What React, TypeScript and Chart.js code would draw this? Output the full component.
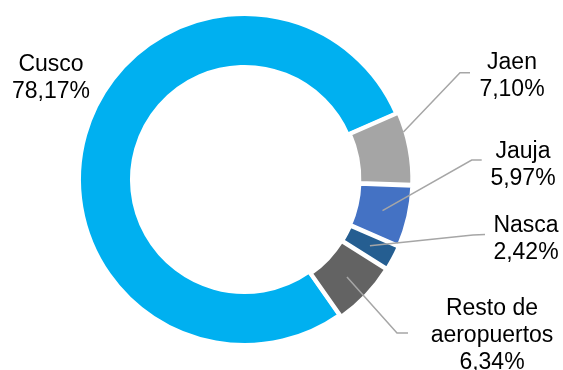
import React, { useEffect, useRef } from 'react';
import { Chart, registerables } from 'chart.js';

Chart.register(...registerables);

// ---- data ----
const categories: string[][] = [['Cusco'], ['Jaen'], ['Jauja'], ['Nasca'], ['Resto de', 'aeropuertos']];
const shares: number[] = [78.17, 7.1, 5.97, 2.42, 6.34];

// ---- styles / layout ----
const sliceColors = ['#00B0F0', '#A5A5A5', '#4472C4', '#255E91', '#636363'];
const sliceOffsets = [0, 6, 6, 6, 6];
const BORDER_W = 4;
const labelAnchors = [
  { x: 51, y: 71 },
  { x: 512, y: 68.5 },
  { x: 523, y: 157.5 },
  { x: 526, y: 231.5 },
  { x: 492, y: 315 },
];
const leaderElbows: (number[][] | null)[] = [
  null,
  [[460, 72.7], [470, 72.7]],
  [[471.7, 160], [481.7, 160]],
  [[473, 235], [485, 234.5]],
  [[397, 333], [408, 333]],
];
const leaderFromEdge = [false, true, false, false, false];
const FONT = '23px "Liberation Sans", Arial, sans-serif';
const LINE_H = 27;

const fmt = (v: number) => v.toFixed(2).replace('.', ',') + '%';

const labelPlugin = {
  id: 'sliceLabels',
  afterDatasetsDraw(chart: any) {
    const ctx: CanvasRenderingContext2D = chart.ctx;
    const meta = chart.getDatasetMeta(0);
    ctx.save();
    meta.data.forEach((arc: any, i: number) => {
      const mid = (arc.startAngle + arc.endAngle) / 2;
      const circ = arc.endAngle - arc.startAngle;
      const off = (sliceOffsets[i] || 0) / 4;
      const shift = off + off * (1 - Math.sin(Math.min(Math.PI, circ)));
      const cx = arc.x + Math.cos(mid) * shift;
      const cy = arc.y + Math.sin(mid) * shift;
      const rMid = (arc.innerRadius + arc.outerRadius) / 2;
      let sx = cx + Math.cos(mid) * rMid;
      let sy = cy + Math.sin(mid) * rMid;
      const elbow = leaderElbows[i];
      if (elbow) {
        if (leaderFromEdge[i]) {
          const dx = elbow[0][0] - sx;
          const dy = elbow[0][1] - sy;
          const fx = sx - cx;
          const fy = sy - cy;
          const R = arc.outerRadius - BORDER_W / 2;
          const a = dx * dx + dy * dy;
          const b = 2 * (fx * dx + fy * dy);
          const c = fx * fx + fy * fy - R * R;
          const disc = b * b - 4 * a * c;
          if (disc >= 0) {
            const t = (-b + Math.sqrt(disc)) / (2 * a);
            sx += t * dx;
            sy += t * dy;
          }
        }
        ctx.beginPath();
        ctx.strokeStyle = '#A6A6A6';
        ctx.lineWidth = 1.5;
        ctx.moveTo(sx, sy);
        elbow.forEach((p) => ctx.lineTo(p[0], p[1]));
        ctx.stroke();
      }
      const lines = [...categories[i], fmt(shares[i])];
      const anchor = labelAnchors[i];
      ctx.fillStyle = '#000000';
      ctx.font = FONT;
      ctx.textAlign = 'center';
      ctx.textBaseline = 'alphabetic';
      lines.forEach((t, k) => ctx.fillText(t, anchor.x, anchor.y + k * LINE_H));
    });
    ctx.restore();
  },
};

export default function App() {
  const ref = useRef<HTMLCanvasElement | null>(null);
  useEffect(() => {
    if (!ref.current) return;
    const chart = new Chart(ref.current, {
      type: 'doughnut',
      data: {
        labels: categories,
        datasets: [
          {
            data: shares,
            backgroundColor: sliceColors,
            borderColor: '#FFFFFF',
            borderWidth: BORDER_W,
            borderJoinStyle: 'miter',
            offset: sliceOffsets,
          } as any,
        ],
      },
      options: {
        animation: false,
        responsive: false,
        events: [],
        rotation: 145,
        radius: 165.5,
        cutout: '68%',
        layout: { padding: { left: 0, right: 74, top: 0, bottom: 11 } },
        plugins: {
          legend: { display: false },
          tooltip: { enabled: false },
        },
      } as any,
      plugins: [labelPlugin],
    });
    return () => chart.destroy();
  }, []);
  return (
    <div style={{ position: 'absolute', left: 0, top: 0, width: 563, height: 370, background: '#fff' }}>
      <canvas ref={ref} width={563} height={370} style={{ display: 'block' }} />
    </div>
  );
}
